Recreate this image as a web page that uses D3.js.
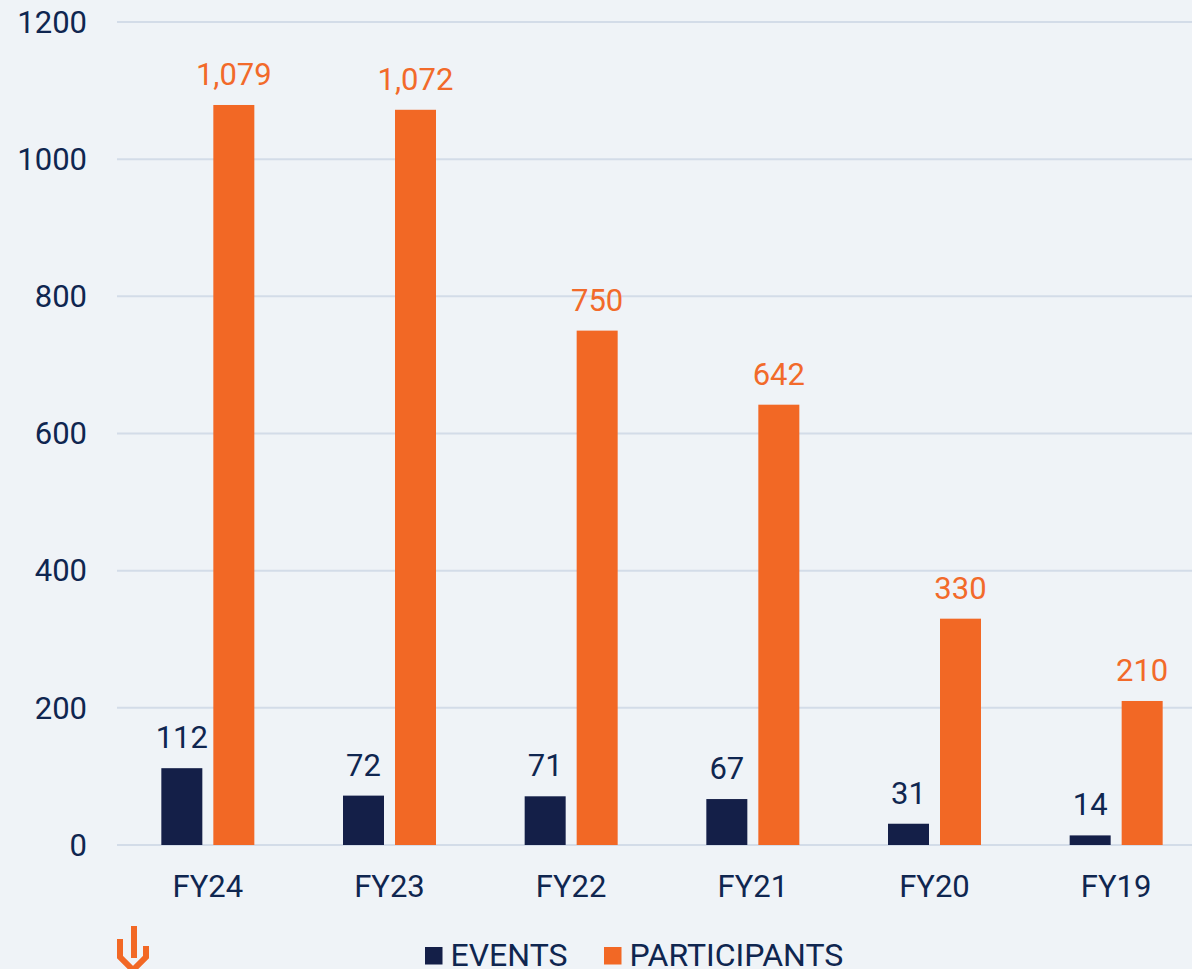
<!DOCTYPE html>
<html>
<head>
<meta charset="utf-8">
<script src="https://cdn.jsdelivr.net/npm/d3@7/dist/d3.min.js"></script>
<style>
  html, body { margin: 0; padding: 0; background: #eff3f7; }
  svg { display: block; font-family: Roboto, "Noto Sans", sans-serif; }
</style>
</head>
<body>
<svg id="chart" width="1192" height="969"></svg>
<script>
const categories = ["FY24", "FY23", "FY22", "FY21", "FY20", "FY19"];
const seriesNames = ["EVENTS", "PARTICIPANTS"];
const events = [112, 72, 71, 67, 31, 14];
const participants = [1079, 1072, 750, 642, 330, 210];
const yTicks = [0, 200, 400, 600, 800, 1000, 1200];

const colors = { EVENTS: "#141f48", PARTICIPANTS: "#f26825" };
const labelColors = { EVENTS: "#0f2650", PARTICIPANTS: "#f26a2a" };
const textColor = "#0f2650";

const svg = d3.select("#chart");
svg.append("rect").attr("width", 1192).attr("height", 969).attr("fill", "#eff3f7");

const x0 = d3.scaleBand().domain(categories).range([117, 1207]).paddingInner(0).paddingOuter(0);
const y = d3.scaleLinear().domain([0, 1200]).range([845, 22]);

// gridlines
svg.append("g").selectAll("line").data(yTicks).join("line")
  .attr("x1", 117).attr("x2", 1192)
  .attr("y1", d => y(d)).attr("y2", d => y(d))
  .attr("stroke", "#d3dce8").attr("stroke-width", 2);

// y tick labels
svg.append("g").selectAll("text").data(yTicks).join("text")
  .attr("x", 87).attr("y", d => y(d) + 10.8)
  .attr("text-anchor", "end")
  .attr("font-size", 31).attr("fill", textColor)
  .text(d => d);

const data = categories.map((c, i) => ({ cat: c, EVENTS: events[i], PARTICIPANTS: participants[i] }));

const groups = svg.append("g").selectAll("g").data(data).join("g");

groups.each(function (d) {
  const c = x0(d.cat) + x0.bandwidth() / 2;
  const x1 = d3.scaleBand().domain(seriesNames).range([c - 46.5, c + 46.5]).paddingInner(11 / 52).paddingOuter(0);
  const g = d3.select(this);
  seriesNames.forEach(s => {
    g.append("rect")
      .attr("x", x1(s)).attr("width", x1.bandwidth())
      .attr("y", y(d[s])).attr("height", y(0) - y(d[s]))
      .attr("fill", colors[s]);
    g.append("text")
      .attr("x", x1(s) + x1.bandwidth() / 2)
      .attr("y", y(d[s]) - 20)
      .attr("text-anchor", "middle")
      .attr("font-size", 31).attr("fill", labelColors[s])
      .text(d3.format(",")(d[s]));
  });
  g.append("text")
    .attr("x", c).attr("y", 897)
    .attr("text-anchor", "middle")
    .attr("font-size", 31).attr("fill", textColor)
    .text(d.cat);
});

// legend
const legend = [
  { name: "EVENTS", x: 425 },
  { name: "PARTICIPANTS", x: 604 }
];
const lg = svg.append("g");
legend.forEach(l => {
  lg.append("rect").attr("x", l.x).attr("y", 947).attr("width", 17.5).attr("height", 17.5).attr("fill", colors[l.name]);
  lg.append("text").attr("x", l.x + 25.5).attr("y", 966).attr("font-size", 32).attr("fill", textColor).text(l.name);
});

// logo
const logo = svg.append("g").attr("fill", "none").attr("stroke", "#f26825").attr("stroke-width", 6).attr("stroke-linejoin", "miter");
logo.append("path").attr("d", "M120,939 L120,957 L133,970 L146,957 L146,946");
logo.append("path").attr("d", "M134,926 L134,958");
</script>
</body>
</html>
